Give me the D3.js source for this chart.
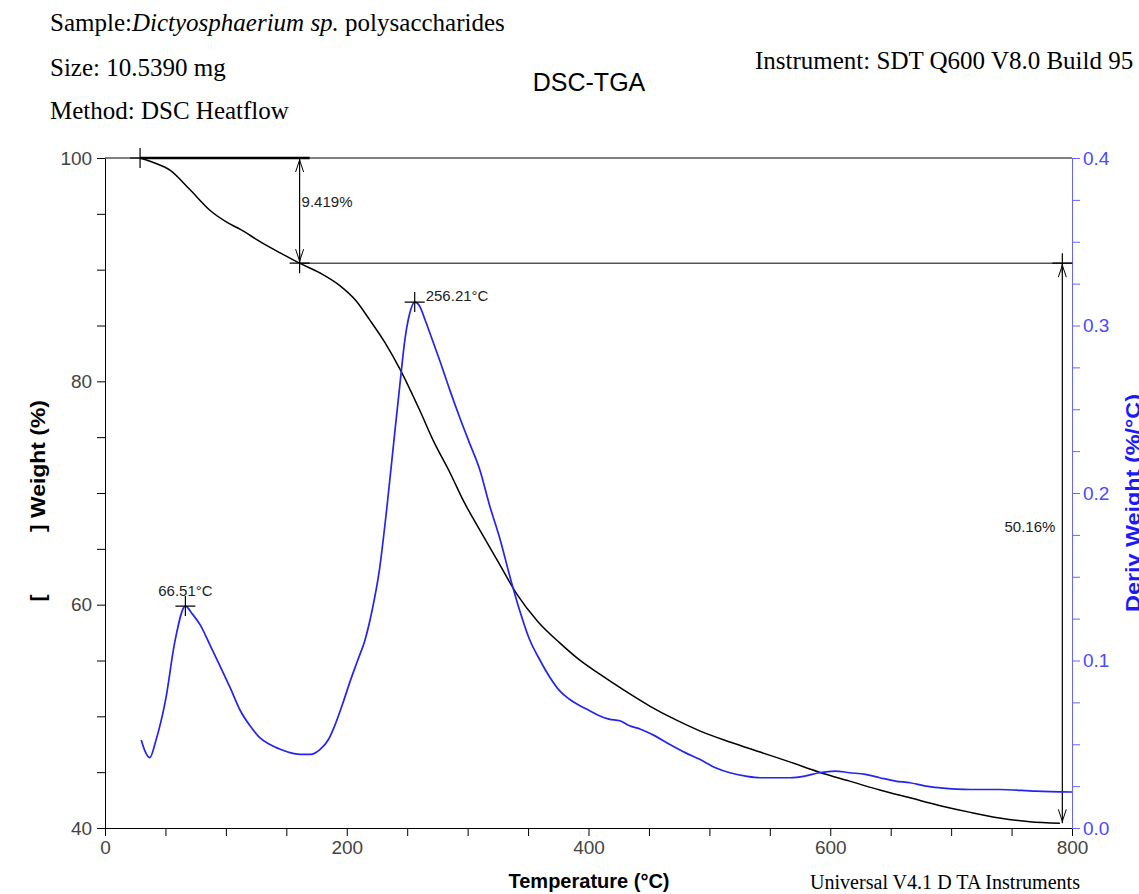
<!DOCTYPE html>
<html>
<head>
<meta charset="utf-8">
<script src="https://cdn.jsdelivr.net/npm/d3@7"></script>
<style>
  body { margin: 0; background: #fff; }
  svg { display: block; }
  .axis text { font-family: Arial, "Liberation Sans", sans-serif; font-size: 19px; }
  .note { font-family: Arial, "Liberation Sans", sans-serif; font-size: 15px; fill: #222; }
</style>
</head>
<body>
<div id="chart"></div>
<script>
// TGA curve: temperature (°C) and weight (%)
const tgaTemp = [29, 40, 54, 70, 87, 100, 112, 130, 145, 161, 178, 194, 207, 219, 232, 244, 260, 272, 285, 297, 310, 326, 341, 358, 376, 392, 409, 430, 451, 472, 492, 517, 542, 567, 591, 616, 641, 666, 691, 716, 740, 765, 790];
const tgaWeight = [100, 99.6, 98.9, 97.2, 95.3, 94.3, 93.6, 92.4, 91.5, 90.58, 89.7, 88.6, 87.3, 85.5, 83.4, 81.1, 77.5, 74.6, 71.9, 69.2, 66.7, 63.7, 60.9, 58.5, 56.6, 55.1, 53.8, 52.3, 50.9, 49.7, 48.7, 47.7, 46.8, 45.9, 45.0, 44.2, 43.4, 42.7, 42.0, 41.4, 40.9, 40.55, 40.42];

// DTG curve: temperature (°C) and derivative weight (%/°C)
const dtgTemp = [30, 33, 37, 42, 50, 58, 66.5, 72, 79, 87, 95, 104, 112, 120, 128, 136, 145, 153, 161, 170, 178, 185, 190, 197, 203, 209, 215, 221, 227, 233, 240, 244, 248, 252, 256.2, 260, 265, 271, 277, 285, 294, 302, 310, 318, 327, 335, 343, 351, 360, 368, 376, 384, 393, 401, 409, 417, 426, 434, 443, 455, 467, 480, 492, 505, 517, 530, 542, 555, 567, 579, 591, 604, 616, 629, 641, 654, 666, 679, 691, 716, 740, 770, 800];
const dtgValue = [0.0525, 0.046, 0.042, 0.052, 0.076, 0.112, 0.1325, 0.128, 0.121, 0.109, 0.097, 0.083, 0.070, 0.061, 0.054, 0.050, 0.047, 0.045, 0.044, 0.044, 0.047, 0.053, 0.061, 0.075, 0.088, 0.100, 0.112, 0.130, 0.154, 0.190, 0.238, 0.265, 0.291, 0.307, 0.314, 0.312, 0.303, 0.291, 0.279, 0.262, 0.244, 0.229, 0.214, 0.193, 0.172, 0.150, 0.130, 0.113, 0.100, 0.090, 0.082, 0.077, 0.073, 0.070, 0.067, 0.065, 0.064, 0.061, 0.059, 0.055, 0.050, 0.045, 0.041, 0.036, 0.033, 0.031, 0.030, 0.030, 0.030, 0.031, 0.033, 0.034, 0.033, 0.032, 0.030, 0.028, 0.027, 0.025, 0.024, 0.023, 0.023, 0.022, 0.0215];

// step annotations
const step1 = { temp: 161, from: 100, to: 90.581, label: "9.419%" };
const step2 = { temp: 792, from: 90.581, to: 40.42, label: "50.16%" };
const peaks = [
  { temp: 66.51, value: 0.1325, label: "66.51°C" },
  { temp: 256.21, value: 0.314, label: "256.21°C" }
];

const xTicks = d3.range(0, 801, 50);
const yLeftTicks = d3.range(40, 101, 5);
const yRightTicks = d3.range(0, 0.4001, 0.025);

const W = 1139, H = 894;
const blue = "#2424f0";
const axisBlue = "#6666ff";
const sans = "Arial, 'Liberation Sans', sans-serif";
const serif = "'Liberation Serif', 'Times New Roman', serif";

const svg = d3.select("#chart").append("svg").attr("width", W).attr("height", H);

const x = d3.scaleLinear().domain([0, 800]).range([105, 1072]);
const yL = d3.scaleLinear().domain([40, 100]).range([828, 158]);
const yR = d3.scaleLinear().domain([0, 0.4]).range([828, 158]);

// header texts
const sample = svg.append("text").attr("x", 50).attr("y", 31)
  .attr("font-family", serif).attr("font-size", 25);
sample.append("tspan").text("Sample:");
sample.append("tspan").attr("font-style", "italic").text("Dictyosphaerium sp.");
sample.append("tspan").text(" polysaccharides");
svg.append("text").attr("x", 50).attr("y", 76).attr("font-family", serif).attr("font-size", 25)
  .text("Size: 10.5390 mg");
svg.append("text").attr("x", 50).attr("y", 119).attr("font-family", serif).attr("font-size", 25)
  .text("Method: DSC Heatflow");
svg.append("text").attr("x", 755).attr("y", 69).attr("font-family", serif).attr("font-size", 25)
  .text("Instrument: SDT Q600 V8.0 Build 95");
svg.append("text").attr("x", 589).attr("y", 91).attr("text-anchor", "middle")
  .attr("font-family", sans).attr("font-size", 25)
  .text("DSC-TGA");

// top frame line
svg.append("line").attr("x1", x(0)).attr("x2", x(800)).attr("y1", yL(100)).attr("y2", yL(100))
  .attr("stroke", "#000").attr("stroke-width", 1);

// axes
const gx = svg.append("g").attr("class", "axis").attr("transform", "translate(0," + yL(40) + ")")
  .call(d3.axisBottom(x).tickValues(xTicks).tickSize(8).tickSizeOuter(0)
    .tickFormat(d => d % 200 === 0 ? d : ""));
gx.selectAll("text").attr("fill", "#444").attr("dy", "0.78em");

const gl = svg.append("g").attr("class", "axis").attr("transform", "translate(" + x(0) + ",0)")
  .call(d3.axisLeft(yL).tickValues(yLeftTicks).tickSize(8).tickSizeOuter(0)
    .tickFormat(d => d % 20 === 0 ? d : ""));
gl.selectAll("text").attr("fill", "#444").attr("dx", "-0.1em");

const gr = svg.append("g").attr("class", "axis").attr("transform", "translate(" + x(800) + ",0)")
  .call(d3.axisRight(yR).tickValues(yRightTicks).tickSize(8).tickSizeOuter(0)
    .tickFormat(d => Math.abs(d * 10 - Math.round(d * 10)) < 1e-6 ? d3.format(".1f")(d) : ""));
gr.select(".domain").attr("stroke", axisBlue);
gr.selectAll(".tick line").attr("stroke", axisBlue);
gr.selectAll("text").attr("fill", "#4a4aff");

// axis titles
svg.append("text").attr("x", 589).attr("y", 888).attr("text-anchor", "middle")
  .attr("font-family", sans).attr("font-size", 20).attr("font-weight", "bold")
  .text("Temperature (°C)");
svg.append("text").attr("x", 810).attr("y", 889)
  .attr("font-family", serif).attr("font-size", 20)
  .attr("textLength", 270).attr("lengthAdjust", "spacingAndGlyphs")
  .text("Universal V4.1 D TA Instruments");
svg.append("text").attr("transform", "translate(45,532) rotate(-90)")
  .attr("font-family", sans).attr("font-size", 20).attr("font-weight", "bold")
  .attr("textLength", 132).attr("lengthAdjust", "spacingAndGlyphs")
  .text("] Weight (%)");
svg.append("text").attr("transform", "translate(45,598) rotate(-90)").attr("text-anchor", "middle")
  .attr("font-family", sans).attr("font-size", 20).attr("font-weight", "bold")
  .text("[");
svg.append("text").attr("transform", "translate(1140,503) rotate(-90)").attr("text-anchor", "middle")
  .attr("font-family", sans).attr("font-size", 20).attr("font-weight", "bold")
  .attr("textLength", 218).attr("lengthAdjust", "spacingAndGlyphs")
  .attr("fill", "#1a1aff")
  .text("Deriv Weight (%/°C)");

// step lines
svg.append("line").attr("x1", x(tgaTemp[0])).attr("x2", x(step1.temp) + 10)
  .attr("y1", yL(100)).attr("y2", yL(100)).attr("stroke", "#000").attr("stroke-width", 2.5);
svg.append("line").attr("x1", x(step1.temp)).attr("x2", x(800))
  .attr("y1", yL(step1.to)).attr("y2", yL(step1.to)).attr("stroke", "#000").attr("stroke-width", 1);

function cross(cx, cy, s) {
  svg.append("path").attr("d", "M" + (cx - s) + "," + cy + "H" + (cx + s) + "M" + cx + "," + (cy - s) + "V" + (cy + s))
    .attr("stroke", "#000").attr("stroke-width", 1.2).attr("fill", "none");
}
function arrow(t, a, b) {
  const ax = x(t), y1 = yL(a), y2 = yL(b);
  svg.append("line").attr("x1", ax).attr("x2", ax).attr("y1", y1).attr("y2", y2)
    .attr("stroke", "#000").attr("stroke-width", 1.2);
  svg.append("path").attr("d",
    "M" + (ax - 4) + "," + (y1 + 14) + "L" + ax + "," + (y1 + 2) + "L" + (ax + 4) + "," + (y1 + 14) +
    "M" + (ax - 4) + "," + (y2 - 14) + "L" + ax + "," + (y2 - 2) + "L" + (ax + 4) + "," + (y2 - 14))
    .attr("stroke", "#000").attr("fill", "none").attr("stroke-width", 1);
}
cross(x(tgaTemp[0]), yL(100), 10);
cross(x(step1.temp), yL(step1.to), 10);
arrow(step1.temp, step1.from, step1.to);
cross(x(step2.temp), yL(step2.from), 10);
arrow(step2.temp, step2.from, step2.to);
svg.append("text").attr("class", "note").attr("x", x(step1.temp) + 2).attr("y", yL(95.6)).text(step1.label);
svg.append("text").attr("class", "note").attr("x", x(step2.temp) - 7).attr("y", yL(66.5))
  .attr("text-anchor", "end").text(step2.label);

// curves
const tga = tgaTemp.map((t, i) => [t, tgaWeight[i]]);
const dtg = dtgTemp.map((t, i) => [t, dtgValue[i]]);
svg.append("path").datum(tga)
  .attr("d", d3.line().x(d => x(d[0])).y(d => yL(d[1])).curve(d3.curveMonotoneX))
  .attr("fill", "none").attr("stroke", "#000").attr("stroke-width", 1.5);
svg.append("path").datum(dtg)
  .attr("d", d3.line().x(d => x(d[0])).y(d => yR(d[1])).curve(d3.curveMonotoneX))
  .attr("fill", "none").attr("stroke", blue).attr("stroke-width", 1.7);

peaks.forEach(p => {
  cross(x(p.temp), yR(p.value), 10);
});
svg.append("text").attr("class", "note").attr("x", x(peaks[0].temp)).attr("y", yR(peaks[0].value) - 10)
  .attr("text-anchor", "middle").text(peaks[0].label);
svg.append("text").attr("class", "note").attr("x", x(peaks[1].temp) + 11).attr("y", yR(peaks[1].value) - 1)
  .text(peaks[1].label);
</script>
</body>
</html>
